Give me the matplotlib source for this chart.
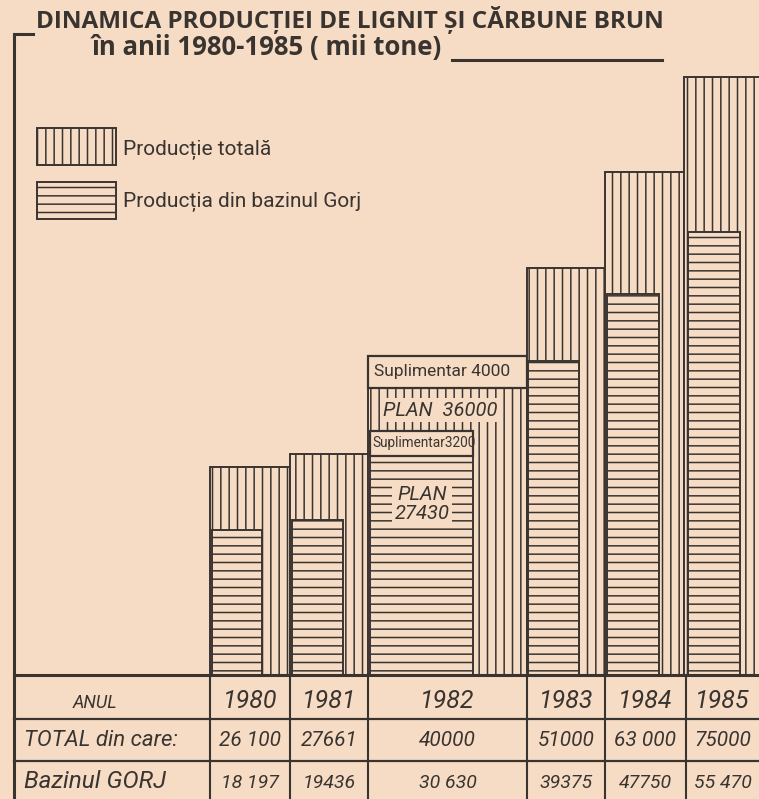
import matplotlib
matplotlib.use("Agg")
import matplotlib.pyplot as plt
from matplotlib.patches import Rectangle

# --- data (mii tone) ---
years = ["1980", "1981", "1982", "1983", "1984", "1985"]
total = [26100, 27661, 40000, 51000, 63000, 75000]
gorj = [18197, 19436, 30630, 39375, 47750, 55470]
plan_total_1982 = 36000
supl_total_1982 = 4000
plan_gorj_1982 = 27430
supl_gorj_1982 = 3200
total_labels = ["26 100", "27661", "40000", "51000", "63 000", "75000"]
gorj_labels = ["18 197", "19436", "30 630", "39375", "47750", "55 470"]

PAPER = "#f6dcc4"
INK = "#3a3431"
NARROW = ["Roboto", "DejaVu Sans"]

plt.rcParams["hatch.linewidth"] = 1.1
plt.rcParams["font.family"] = NARROW

W, H = 759, 799
base = 675            # pixel row of the bar baseline
px_per_unit = 0.00798

fig = plt.figure(figsize=(W / 100, H / 100), dpi=100, facecolor=PAPER)

# bar axes: x in pixel columns, y in data units
ax = fig.add_axes([0, 1 - base / H, 1, base / H])
ax.set_xlim(0, W)
ax.set_ylim(0, base / px_per_unit)
ax.axis("off")
ax.patch.set_alpha(0)

# column edges (pixels) of the total bars and the Gorj bars
col_left = [210, 290, 368, 527, 605, 684]
col_right = [290, 368, 527, 605, 684, 775]
gorj_left = [212, 292, 370, 528, 607, 688]
gorj_right = [262, 343, 473, 579, 659, 740]

for i, yr in enumerate(years):
    wt = col_right[i] - col_left[i]
    wg = gorj_right[i] - gorj_left[i]
    if yr == "1982":
        ax.bar(col_left[i], plan_total_1982, width=wt, align="edge",
               color=PAPER, edgecolor=INK, hatch="||", linewidth=1.4)
        ax.bar(col_left[i], supl_total_1982, bottom=plan_total_1982, width=wt,
               align="edge", color=PAPER, edgecolor=INK, linewidth=1.6)
        ax.text(col_left[i] + 6, plan_total_1982 + supl_total_1982 / 2,
                f"Suplimentar {supl_total_1982}", ha="left", va="center",
                fontsize=12.5, color=INK)
        ax.bar(gorj_left[i], plan_gorj_1982, width=wg, align="edge",
               color=PAPER, edgecolor=INK, hatch="--", linewidth=1.4)
        ax.bar(gorj_left[i], supl_gorj_1982, bottom=plan_gorj_1982, width=wg,
               align="edge", color=PAPER, edgecolor=INK, linewidth=1.6)
        ax.text(gorj_left[i] + 2, plan_gorj_1982 + supl_gorj_1982 / 2,
                f"Suplimentar{supl_gorj_1982}", ha="left", va="center",
                fontsize=9.8, color=INK)
        ax.text(440, plan_total_1982 - 2800, f"PLAN  {plan_total_1982}",
                ha="center", va="center", fontsize=14.5, style="italic", color=INK,
                bbox=dict(boxstyle="square,pad=0.12", fc=PAPER, ec="none"))
        ax.text(422, plan_gorj_1982 * 0.78, f"PLAN\n{plan_gorj_1982}",
                ha="center", va="center", fontsize=14.5, style="italic", color=INK,
                linespacing=1.0,
                bbox=dict(boxstyle="square,pad=0.12", fc=PAPER, ec="none"))
    else:
        ax.bar(col_left[i], total[i], width=wt, align="edge",
               color=PAPER, edgecolor=INK, hatch="||", linewidth=1.4)
        ax.bar(gorj_left[i], gorj[i], width=wg, align="edge",
               color=PAPER, edgecolor=INK, hatch="--", linewidth=1.4)

# overlay axes in pixel coordinates for title, legend, table
ov = fig.add_axes([0, 0, 1, 1])
ov.set_xlim(0, W)
ov.set_ylim(H, 0)
ov.axis("off")
ov.patch.set_alpha(0)

TITLE_FONT = ["Open Sans", "DejaVu Sans"]
ov.text(350, 20, "DINAMICA PRODUCȚIEI DE LIGNIT ȘI CĂRBUNE BRUN", ha="center",
        va="center", fontsize=17.5, fontweight="bold", color=INK, family=TITLE_FONT)
ov.text(92, 47, "în anii 1980-1985 ( mii tone)", ha="left", va="center",
        fontsize=18.5, fontweight="bold", color=INK, family=TITLE_FONT)
ov.plot([452, 662], [60, 60], color=INK, lw=2.2)
ov.plot([14, 14, 33], [H, 34, 34], color=INK, lw=2.2, solid_joinstyle="miter")

# legend
ov.add_patch(Rectangle((37, 128), 79, 37, fc=PAPER, ec=INK, hatch="||", lw=1.4))
ov.add_patch(Rectangle((37, 182), 79, 37, fc=PAPER, ec=INK, hatch="--", lw=1.4))
ov.text(123, 150, "Producție totală", ha="left", va="center", fontsize=15, color=INK)
ov.text(123, 202, "Producția din bazinul Gorj", ha="left", va="center",
        fontsize=15, color=INK)

# table
rows = [675, 719, 761, 805]
ov.plot([14, W], [rows[0], rows[0]], color=INK, lw=2.2)
for r in rows[1:3]:
    ov.plot([14, W], [r, r], color=INK, lw=1.6)
for x in [210, 290, 368, 527, 605, 686]:
    ov.plot([x, x], [rows[0], H], color=INK, lw=1.5)
ymid = [(rows[k] + rows[k + 1]) / 2 for k in range(3)]
ov.text(95, ymid[0] + 6, "ANUL", ha="center", va="center", fontsize=13,
        style="italic", color=INK)
ov.text(24, ymid[1], "TOTAL din care:", ha="left", va="center", fontsize=16,
        style="italic", color=INK)
ov.text(24, ymid[2] - 2, "Bazinul GORJ", ha="left", va="center", fontsize=17.5,
        style="italic", color=INK)
centers = [(a + b) / 2 for a, b in zip([210, 290, 368, 527, 605, 686],
                                       [290, 368, 527, 605, 686, 759])]
for c, yr, t, g in zip(centers, years, total_labels, gorj_labels):
    ov.text(c, ymid[0] + 4, yr, ha="center", va="center", fontsize=18,
            style="italic", color=INK)
    ov.text(c, ymid[1], t, ha="center", va="center", fontsize=15,
            style="italic", color=INK)
    ov.text(c, ymid[2], g, ha="center", va="center", fontsize=14,
            style="italic", color=INK)

fig.savefig("out.png", dpi=100, facecolor=PAPER)
